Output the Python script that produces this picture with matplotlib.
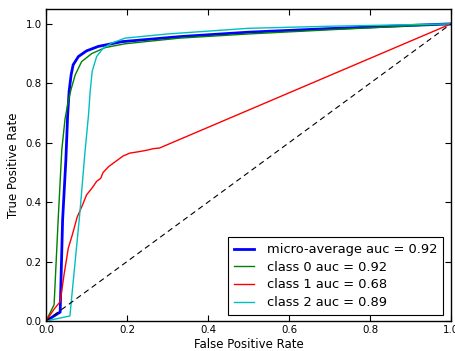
import matplotlib
matplotlib.use("Agg")
import matplotlib.pyplot as plt

# Data
micro_fpr = [0.0, 0.035, 0.041, 0.049, 0.0535, 0.057, 0.062, 0.067, 0.08, 0.10, 0.129, 0.187, 0.33, 0.5, 0.7, 1.0]
micro_tpr = [0.0, 0.03, 0.34, 0.54, 0.694, 0.772, 0.828, 0.862, 0.89, 0.909, 0.924, 0.94, 0.957, 0.972, 0.984, 1.0]

c0_fpr = [0.0, 0.02, 0.03, 0.039, 0.047, 0.055, 0.062, 0.072, 0.088, 0.113, 0.146, 0.195, 0.33, 0.5, 0.7, 1.0]
c0_tpr = [0.0, 0.055, 0.34, 0.576, 0.68, 0.74, 0.78, 0.828, 0.873, 0.9, 0.92, 0.933, 0.952, 0.966, 0.98, 1.0]

c1_fpr = [0.0, 0.02, 0.035, 0.045, 0.055, 0.065, 0.077, 0.09, 0.10, 0.115, 0.125, 0.135, 0.141, 0.155, 0.17, 0.19, 0.207, 0.23, 0.25, 0.265, 0.28, 1.0]
c1_tpr = [0.0, 0.04, 0.065, 0.16, 0.245, 0.29, 0.35, 0.39, 0.424, 0.45, 0.47, 0.48, 0.50, 0.52, 0.535, 0.555, 0.565, 0.57, 0.575, 0.58, 0.582, 1.0]

c2_fpr = [0.0, 0.059, 0.084, 0.096, 0.105, 0.109, 0.114, 0.125, 0.141, 0.162, 0.195, 0.3, 0.5, 0.7, 1.0]
c2_tpr = [0.0, 0.017, 0.37, 0.565, 0.694, 0.772, 0.84, 0.89, 0.918, 0.935, 0.952, 0.966, 0.985, 0.992, 1.0]

labels = ["micro-average auc = 0.92", "class 0 auc = 0.92", "class 1 auc = 0.68", "class 2 auc = 0.89"]
colors = ["blue", "green", "red", "c"]
widths = [2, 1, 1, 1]

xticks = [0.0, 0.2, 0.4, 0.6, 0.8, 1.0]
yticks = [0.0, 0.2, 0.4, 0.6, 0.8, 1.0]

plt.rcParams["font.family"] = "DejaVu Sans"
plt.rcParams["font.size"] = 7.4

fig = plt.figure(figsize=(4.56, 3.51), dpi=100, facecolor="white")
ax = fig.add_axes([46 / 456, 1 - 321 / 351, 405 / 456, 312 / 351])

series = [(micro_fpr, micro_tpr), (c0_fpr, c0_tpr), (c1_fpr, c1_tpr), (c2_fpr, c2_tpr)]
for (x, y), lab, col, lw in zip(series, labels, colors, widths):
    ax.plot(x, y, color=col, lw=lw, label=lab)

ax.plot([0, 1], [0, 1], color="black", lw=0.8, dashes=(5, 3.5))
ax.set_xlim(0, 1)
ax.set_ylim(0, 1.05)
ax.set_xticks(xticks)
ax.set_yticks(yticks)
ax.set_xticklabels([f"{t:.1f}" for t in xticks])
ax.set_yticklabels([f"{t:.1f}" for t in yticks])
ax.tick_params(direction="in", top=True, right=True, length=4, width=0.8, pad=3, labelsize=7.4)
for s in ax.spines.values():
    s.set_linewidth(1.0)
ax.set_xlabel("False Positive Rate", labelpad=2, fontsize=8.5)
ax.set_ylabel("True Positive Rate", labelpad=4, fontsize=8.5)

leg = ax.legend(loc="lower right", fancybox=False, edgecolor="black", framealpha=1,
                handlelength=1.55, handletextpad=1.0, borderpad=0.45, labelspacing=0.36,
                fontsize=9.35, bbox_to_anchor=(443 / 456, 1 - 315 / 351),
                bbox_transform=fig.transFigure, borderaxespad=0)
leg.get_frame().set_linewidth(0.8)

fig.savefig("out.png", dpi=100, facecolor="white")
